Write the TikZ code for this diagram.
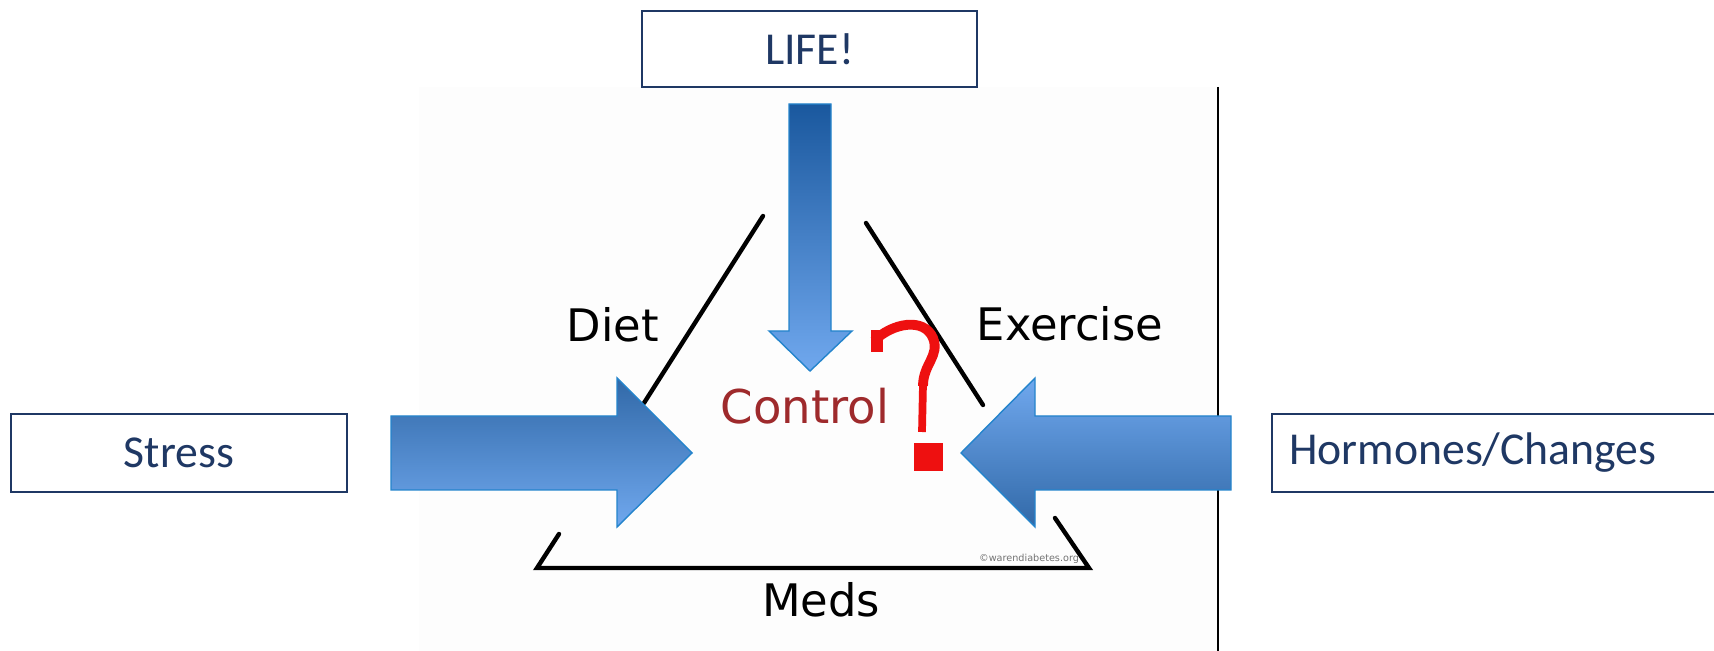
\documentclass[tikz,border=0pt]{standalone}
\usepackage{fontspec}
\setmainfont{Carlito}
\newfontfamily\photofont{DejaVu Sans}
\definecolor{navy}{RGB}{31,56,100}
\definecolor{deepblue}{RGB}{26,88,158}
\definecolor{skyblue}{RGB}{112,168,238}
\definecolor{rim}{RGB}{36,132,204}
\definecolor{wine}{RGB}{158,42,44}
\definecolor{scarlet}{RGB}{238,16,16}
\tikzset{
  tagbox/.style={draw=navy,line width=0.9pt,text=navy,fill=white,
    font=\fontsize{26}{30}\selectfont,minimum width=6.72cm,minimum height=1.56cm},
  word/.style={font=\photofont\fontsize{25.5}{30}\selectfont,text=black,inner sep=0pt},
  side/.style={line width=2.5pt,line cap=round},
  fatarrow/.style={draw=rim,line width=0.8pt,shading angle=0},
}
\begin{document}
\begin{tikzpicture}[x=0.02cm,y=-0.02cm]
  \useasboundingbox (0,0) rectangle (1714,651);
  \clip (0,0) rectangle (1714,651);
  % photo
  \fill[black!0.8] (419,87) rectangle (1218,651);
  \draw[line width=0.7pt] (1218,87) -- (1218,651);
  \draw[side] (763,216) -- (644,403);
  \draw[side] (866,223) -- (983,405);
  \draw[side] (559,534) -- (537,568) -- (1089,568) -- (1055,518);
  \node[word] (diet) at (613,325) {Diet};
  \node[word] (exercise) at (1070,324) {Exercise};
  \node[word,text=wine,font=\photofont\fontsize{26.5}{30}\selectfont] (control) at (805,406) {Control};
  \node[word] (meds) at (821,600) {Meds};
  \node[word,text=black!55,font=\photofont\fontsize{5.5}{6}\selectfont] (credit) at (1029,559) {\textcopyright warendiabetes.org};
  \draw[scarlet,line width=5.6pt] (874,341) .. controls (892,323) and (924,317) .. (933,338)
    .. controls (940,356) and (923,364) .. (923,386);
  \draw[scarlet,line width=4.4pt] (923,384) -- (922,432);
  \draw[scarlet,line width=7pt] (877,330) -- (877,352);
  \fill[scarlet] (914,443) rectangle (943,471);
  % text boxes
  \node[tagbox,minimum width=6.7cm,minimum height=1.52cm] (life) at (809.5,49) {LIFE!};
  \node[tagbox] (stress) at (179,453) {Stress};
  \node[tagbox,anchor=west,minimum width=9cm,text width=8.3cm,inner xsep=0.35cm,align=left] (hormones) at (1271,453) {Hormones/Changes};
  % block arrows
  \shade[fatarrow,top color=deepblue,bottom color=skyblue]
    (789,104) -- (831,104) -- (831,331) -- (852,331) -- (810,371) -- (769,331) -- (789,331) -- cycle;
  \shade[fatarrow,top color=deepblue!90!white,bottom color=skyblue]
    (391,416) -- (617,416) -- (617,378) -- (692,453) -- (617,527) -- (617,490) -- (391,490) -- cycle;
  \shade[fatarrow,top color=skyblue,bottom color=deepblue!90!white]
    (1231,416) -- (1035,416) -- (1035,378) -- (961,453) -- (1035,527) -- (1035,490) -- (1231,490) -- cycle;
\end{tikzpicture}
\end{document}
